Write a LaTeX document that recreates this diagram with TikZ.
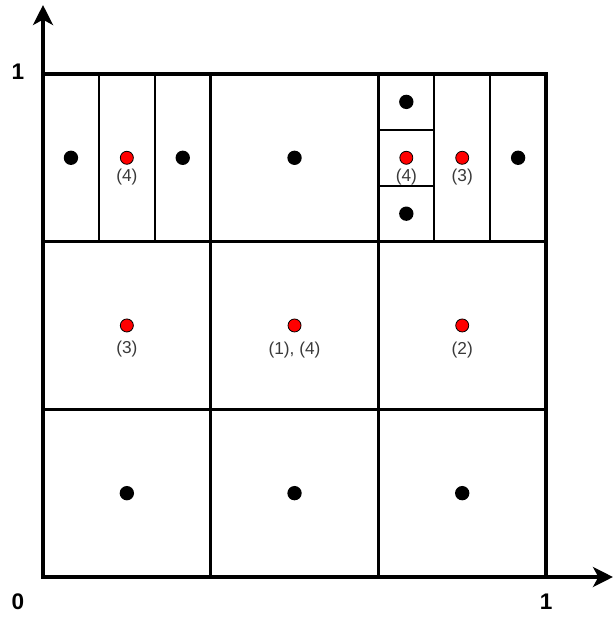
\documentclass[tikz,border=0pt]{standalone}
\usepackage{fontspec}
\setmainfont{Liberation Sans}
\usetikzlibrary{arrows.meta}
\definecolor{labelgray}{HTML}{3A3A3A}
\tikzset{every path/.style={black,line width=1.8pt},
  frame/.style={line width=3pt},
  axis/.style={line width=3pt,-{Stealth[length=15pt,width=15pt,inset=4pt]}},
  bdot/.style={fill=black,draw=none},
  rdot/.style={fill=red,draw=black,line width=0.6pt},
  tag/.style={text=labelgray,font=\fontsize{13}{15}\selectfont,inner sep=0pt},
  tick/.style={font=\fontsize{17}{20}\selectfont\bfseries,inner sep=0pt}}

\begin{document}
\begin{tikzpicture}[x=13.31cm,y=13.31cm]
  \useasboundingbox (-0.0855,-0.0815) rectangle (1.133,1.147);
  % grid
  \draw (1/3,0) -- (1/3,1);
  \draw (2/3,0) -- (2/3,1);
  \draw (0,1/3) -- (1,1/3);
  \draw (0,2/3) -- (1,2/3);
  \draw (1/9,2/3) -- (1/9,1);
  \draw (2/9,2/3) -- (2/9,1);
  \draw (7/9,2/3) -- (7/9,1);
  \draw (8/9,2/3) -- (8/9,1);
  \draw (2/3,7/9) -- (7/9,7/9);
  \draw (2/3,8/9) -- (7/9,8/9);
  \draw[frame] (0,1) -- (1,1) -- (1,0);
  % axes
  \draw[axis] (0,-0.003) -- (0,1.137);
  \draw[axis] (-0.003,0) -- (1.133,0);
  \node[tick] (one y) at (-0.05,1.004) {1};
  \node[tick] (zero) at (-0.05,-0.05) {0};
  \node[tick] (one x) at (1,-0.05) {1};
  % black points
  \fill[bdot] (1/18,5/6) circle (5.4pt);
  \fill[bdot] (5/18,5/6) circle (5.4pt);
  \fill[bdot] (1/2,5/6) circle (5.4pt);
  \fill[bdot] (13/18,17/18) circle (5.4pt);
  \fill[bdot] (13/18,13/18) circle (5.4pt);
  \fill[bdot] (17/18,5/6) circle (5.4pt);
  \fill[bdot] (1/6,1/6) circle (5.4pt);
  \fill[bdot] (1/2,1/6) circle (5.4pt);
  \fill[bdot] (5/6,1/6) circle (5.4pt);
  % red points
  \filldraw[rdot] (1/6,5/6) circle (4.9pt);
  \filldraw[rdot] (13/18,5/6) circle (4.9pt);
  \filldraw[rdot] (5/6,5/6) circle (4.9pt);
  \filldraw[rdot] (1/6,1/2) circle (4.9pt);
  \filldraw[rdot] (1/2,1/2) circle (4.9pt);
  \filldraw[rdot] (5/6,1/2) circle (4.9pt);
  \node[tag] (l4a) at (1/6,5/6-0.039) {(4)};
  \node[tag] (l4b) at (13/18,5/6-0.039) {(4)};
  \node[tag] (l3a) at (5/6,5/6-0.039) {(3)};
  \node[tag] (l3b) at (1/6,1/2-0.046) {(3)};
  \node[tag] (l14) at (1/2,1/2-0.048) {(1), (4)};
  \node[tag] (l2) at (5/6,1/2-0.048) {(2)};
 \end{tikzpicture}
\end{document}
